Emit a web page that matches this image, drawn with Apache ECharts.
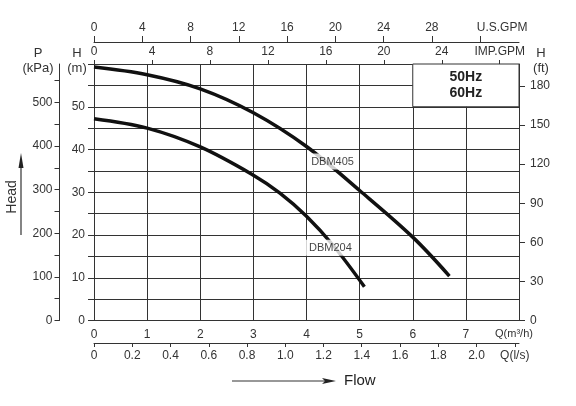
<!DOCTYPE html>
<html>
<head>
<meta charset="utf-8">
<script src="https://cdn.jsdelivr.net/npm/echarts@6/dist/echarts.min.js"></script>
<style>
  html, body { margin: 0; padding: 0; background: #fff; }
  #chart { width: 576px; height: 406px; }
</style>
</head>
<body>
<div id="chart"></div>
<script>
// pump curves, flow in m3/h, head in m
const dbm405Q = [0, 1, 2, 3, 4, 5, 6, 6.69];
const dbm405H = [59.3, 57.5, 54.2, 48.6, 40.7, 30.4, 19.5, 10.4];
const dbm204Q = [0, 1, 2, 3, 3.5, 4, 4.5, 5.09];
const dbm204H = [47.2, 45.0, 40.6, 34.0, 29.8, 24.4, 17.6, 7.9];

// curve name labels (flow, head)
const curveNames = ['DBM405', 'DBM204'];
const curveNameQ = [4.49, 4.45];
const curveNameH = [37.2, 17.0];

// tick values and labels
const m3hLabels = ['0', '1', '2', '3', '4', '5', '6', '7', 'Q(m³/h)'];
const lsTicks = [0, 0.2, 0.4, 0.6, 0.8, 1.0, 1.2, 1.4, 1.6, 1.8, 2.0, 2.2];
const lsLabels = ['0', '0.2', '0.4', '0.6', '0.8', '1.0', '1.2', '1.4', '1.6', '1.8', '2.0', 'Q(l/s)'];
const usTicks = [0, 4, 8, 12, 16, 20, 24, 28, 32];
const usLabels = ['0', '4', '8', '12', '16', '20', '24', '28', '{n|U.S.GPM}'];
const impTicks = [0, 4, 8, 12, 16, 20, 24, 28];
const impLabels = ['0', '4', '8', '12', '16', '20', '24', 'IMP.GPM'];
const hmLabelVals = [0, 10, 20, 30, 40, 50];
const kpaTicks = [0, 50, 100, 150, 200, 250, 300, 350, 400, 450, 500, 550];
const kpaLabelVals = [0, 100, 200, 300, 400, 500];
const ftTicks = [0, 30, 60, 90, 120, 150, 180];

const QMAX = 8, HMAX = 60;
const FONT = "'Liberation Sans', Arial, sans-serif";
const ink = '#333';

function pick(ticks, labels) {
  return function (v) {
    for (let i = 0; i < ticks.length; i++) {
      if (Math.abs(ticks[i] - v) < 1e-6) return labels[i];
    }
    return '';
  };
}

const chart = echarts.init(document.getElementById('chart'));

const labelStyle = { color: ink, fontSize: 12, fontFamily: FONT };
const axisLine = { show: true, onZero: false, lineStyle: { color: ink, width: 1 } };

const option = {
  backgroundColor: '#fff',
  animation: false,
  grid: { left: 94, right: 57, top: 64, bottom: 85.5 },
  xAxis: [
    {
      type: 'value', position: 'bottom', min: 0, max: QMAX, interval: 1,
      axisLine: axisLine,
      axisTick: { show: false },
      axisLabel: Object.assign({}, labelStyle, {
        margin: 8,
        formatter: function (v) {
          const t = m3hLabels[Math.round(v)];
          return v === QMAX ? '{u|' + t + '}' : t;
        },
        rich: { u: { fontSize: 11, color: ink, fontFamily: FONT, padding: [0, 0, 0, -10] } }
      }),
      splitLine: { show: true, lineStyle: { color: ink, width: 1 } }
    },
    {
      type: 'value', position: 'bottom', offset: 22.5, min: 0, max: QMAX / 3.6,
      axisLine: axisLine,
      axisTick: { show: true, length: 4, customValues: lsTicks, lineStyle: { color: ink } },
      axisLabel: Object.assign({}, labelStyle, { margin: 7, customValues: lsTicks, formatter: pick(lsTicks, lsLabels) }),
      splitLine: { show: false }
    },
    {
      type: 'value', position: 'top', offset: 0, min: 0, max: QMAX / 0.272765,
      axisLine: axisLine,
      axisTick: { show: true, length: 4, customValues: impTicks, lineStyle: { color: ink } },
      axisLabel: Object.assign({}, labelStyle, { margin: 6, customValues: impTicks, formatter: pick(impTicks, impLabels) }),
      splitLine: { show: false }
    },
    {
      type: 'value', position: 'top', offset: 22, min: 0, max: QMAX / 0.227125,
      axisLine: axisLine,
      axisTick: { show: true, length: 6, customValues: usTicks, lineStyle: { color: ink } },
      axisLabel: Object.assign({}, labelStyle, {
        margin: 8, customValues: usTicks, formatter: pick(usTicks, usLabels),
        rich: { n: { fontSize: 12, color: ink, fontFamily: FONT, padding: [0, 0, 0, 44] } }
      }),
      splitLine: { show: false }
    }
  ],
  yAxis: [
    {
      type: 'value', position: 'left', min: 0, max: HMAX, interval: 5,
      axisLine: axisLine,
      axisTick: { show: true, length: 6, lineStyle: { color: ink } },
      axisLabel: Object.assign({}, labelStyle, { margin: 9, customValues: hmLabelVals }),
      splitLine: { show: true, lineStyle: { color: ink, width: 1 } }
    },
    {
      type: 'value', position: 'left', offset: 34.5, min: 0, max: HMAX * 9.80665,
      axisLine: axisLine,
      axisTick: { show: true, length: 5, customValues: kpaTicks, lineStyle: { color: ink } },
      axisLabel: Object.assign({}, labelStyle, { margin: 7, customValues: kpaLabelVals }),
      splitLine: { show: false }
    },
    {
      type: 'value', position: 'right', offset: 0, min: 0, max: HMAX / 0.3048,
      axisLine: axisLine,
      axisTick: { show: true, length: 6, customValues: ftTicks, lineStyle: { color: ink } },
      axisLabel: Object.assign({}, labelStyle, { margin: 11, customValues: ftTicks }),
      splitLine: { show: false }
    }
  ],
  series: [
    {
      name: 'DBM405', type: 'line', xAxisIndex: 0, yAxisIndex: 0,
      data: dbm405Q.map((q, i) => [q, dbm405H[i]]),
      smooth: 0.35, symbol: 'none', z: 3,
      lineStyle: { color: '#111', width: 3.5 },
      markArea: {
        silent: true,
        itemStyle: { color: '#fff', borderColor: ink, borderWidth: 1 },
        label: {
          show: true, position: 'inside', formatter: '50Hz\n60Hz',
          fontSize: 14, fontWeight: 'bold', lineHeight: 16, color: '#222', fontFamily: FONT
        },
        data: [[{ coord: [6, 50] }, { coord: [QMAX, HMAX] }]]
      }
    },
    {
      name: 'DBM204', type: 'line', xAxisIndex: 0, yAxisIndex: 0,
      data: dbm204Q.map((q, i) => [q, dbm204H[i]]),
      smooth: 0.35, symbol: 'none', z: 3,
      lineStyle: { color: '#111', width: 3.5 }
    },
    {
      name: 'names', type: 'scatter', xAxisIndex: 0, yAxisIndex: 0,
      data: curveNames.map((n, i) => ({ name: n, value: [curveNameQ[i], curveNameH[i]] })),
      symbolSize: 0, z: 5, silent: true,
      label: {
        show: true, position: 'inside', formatter: '{b}',
        fontSize: 11, color: '#111', fontFamily: FONT,
        backgroundColor: '#fff', padding: [3, 3, 2, 3]
      }
    }
  ],
  graphic: [
    { type: 'text', x: 38, y: 53, style: { text: 'P', fontSize: 13, fontFamily: FONT, fill: ink, align: 'center', verticalAlign: 'middle' } },
    { type: 'text', x: 38, y: 68, style: { text: '(kPa)', fontSize: 13, fontFamily: FONT, fill: ink, align: 'center', verticalAlign: 'middle' } },
    { type: 'text', x: 77, y: 53, style: { text: 'H', fontSize: 13, fontFamily: FONT, fill: ink, align: 'center', verticalAlign: 'middle' } },
    { type: 'text', x: 77, y: 68, style: { text: '(m)', fontSize: 13, fontFamily: FONT, fill: ink, align: 'center', verticalAlign: 'middle' } },
    { type: 'text', x: 541, y: 53, style: { text: 'H', fontSize: 13, fontFamily: FONT, fill: ink, align: 'center', verticalAlign: 'middle' } },
    { type: 'text', x: 541, y: 68, style: { text: '(ft)', fontSize: 13, fontFamily: FONT, fill: ink, align: 'center', verticalAlign: 'middle' } },
    { type: 'text', x: 12, y: 197, rotation: Math.PI / 2, style: { text: 'Head', fontSize: 14, fontFamily: FONT, fill: ink, align: 'center', verticalAlign: 'middle' } },
    { type: 'line', shape: { x1: 21, y1: 235, x2: 21, y2: 165 }, style: { stroke: ink, lineWidth: 1.2 } },
    { type: 'polygon', shape: { points: [[21, 153], [18.5, 168], [23.5, 168]] }, style: { fill: '#222' } },
    { type: 'line', shape: { x1: 232, y1: 381, x2: 326, y2: 381 }, style: { stroke: ink, lineWidth: 1.2 } },
    { type: 'polygon', shape: { points: [[336, 381], [322, 378], [325, 381], [322, 384]] }, style: { fill: '#222' } },
    { type: 'text', x: 344, y: 381, style: { text: 'Flow', fontSize: 15, fontFamily: FONT, fill: '#222', align: 'left', verticalAlign: 'middle' } }
  ]
};

chart.setOption(option);
</script>
</body>
</html>
